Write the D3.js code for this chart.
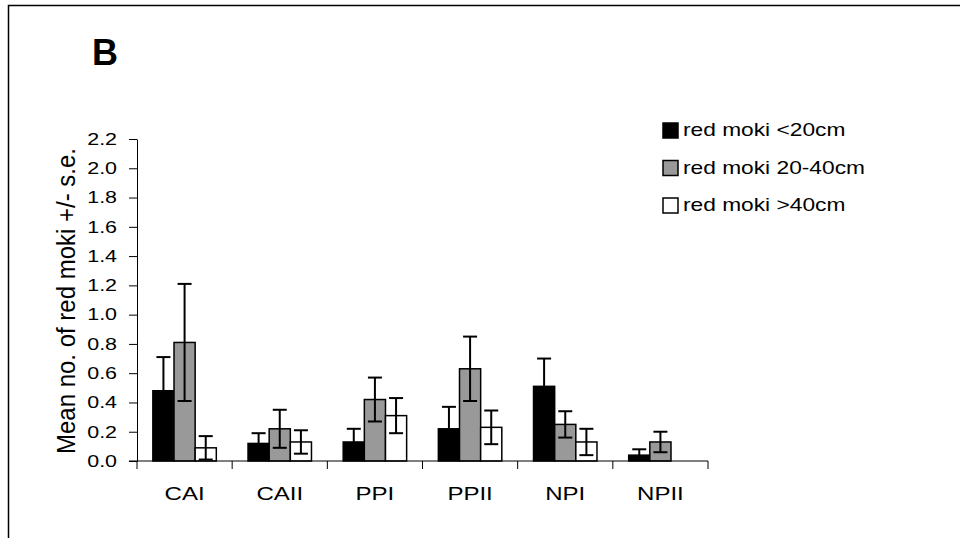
<!DOCTYPE html>
<html>
<head>
<meta charset="utf-8">
<script src="https://cdn.jsdelivr.net/npm/d3@7"></script>
<style>
  body { margin: 0; background: #fff; }
  svg { font-family: "Liberation Sans", Arial, sans-serif; }
</style>
</head>
<body>
<div id="wrapper"></div>
<script>
// sites along the x axis
var sites = ["CAI", "CAII", "PPI", "PPII", "NPI", "NPII"];
// size classes (legend)
var sizeClasses = ["red moki <20cm", "red moki 20-40cm", "red moki >40cm"];
// mean counts per size class, one value per site
var meanSmall = [0.48, 0.12, 0.13, 0.22, 0.51, 0.04];
var meanMid   = [0.81, 0.22, 0.42, 0.63, 0.25, 0.13];
var meanLarge = [0.09, 0.13, 0.31, 0.23, 0.13, 0.0];
// standard errors
var seSmall = [0.23, 0.07, 0.09, 0.15, 0.19, 0.04];
var seMid   = [0.40, 0.13, 0.15, 0.22, 0.09, 0.07];
var seLarge = [0.08, 0.08, 0.12, 0.115, 0.09, 0.0];
var yTicks = [0, 0.2, 0.4, 0.6, 0.8, 1.0, 1.2, 1.4, 1.6, 1.8, 2.0, 2.2];
var fills = ["#000000", "#999999", "#ffffff"];

var means = [meanSmall, meanMid, meanLarge];
var ses = [seSmall, seMid, seLarge];

// the original picture is stretched sideways, text too
var sx = 1.3;

var width = 960, height = 538;
var svg = d3.select("#wrapper").append("svg")
    .attr("width", width)
    .attr("height", height);

// frame (only top and left edges visible)
svg.append("path")
    .attr("d", "M8.5,538 V5.5 H960")
    .attr("fill", "none")
    .attr("stroke", "#000")
    .attr("stroke-width", 1.5);

// panel letter
svg.append("text")
    .attr("x", 92)
    .attr("y", 65)
    .style("font-size", "36px")
    .style("font-weight", "bold")
    .text("B");

var x0 = d3.scaleBand()
    .domain(sites)
    .range([137, 708])
    .paddingInner(0)
    .paddingOuter(0);

var bw = x0.bandwidth() / 4.5;   // excel gap width 150%
var x1 = d3.scaleBand()
    .domain([0, 1, 2])
    .range([bw * 0.75, bw * 3.75]);

var y = d3.scaleLinear()
    .domain([0, 2.2])
    .range([461, 139]);

// build flat bar data
var data = [];
sites.forEach(function (s, i) {
  for (var k = 0; k < 3; k++) {
    data.push({site: s, k: k, mean: means[k][i], se: ses[k][i]});
  }
});

// bars
svg.selectAll(".bar")
    .data(data)
  .enter().append("rect")
    .attr("class", "bar")
    .attr("x", function (d) { return x0(d.site) + x1(d.k); })
    .attr("y", function (d) { return y(d.mean); })
    .attr("width", x1.bandwidth())
    .attr("height", function (d) { return y(0) - y(d.mean); })
    .attr("fill", function (d) { return fills[d.k]; })
    .attr("stroke", "#000")
    .attr("stroke-width", 1.5);

// error bars
var eb = svg.selectAll(".err")
    .data(data.filter(function (d) { return d.se > 0; }))
  .enter().append("g")
    .attr("class", "err")
    .attr("stroke", "#000")
    .attr("stroke-width", 2);
var cx = function (d) { return x0(d.site) + x1(d.k) + x1.bandwidth() / 2; };
eb.append("line")
    .attr("x1", cx).attr("x2", cx)
    .attr("y1", function (d) { return y(d.mean + d.se); })
    .attr("y2", function (d) { return y(Math.max(0, d.mean - d.se)); });
eb.append("line")
    .attr("x1", function (d) { return cx(d) - 7; })
    .attr("x2", function (d) { return cx(d) + 7; })
    .attr("y1", function (d) { return y(d.mean + d.se); })
    .attr("y2", function (d) { return y(d.mean + d.se); });
eb.append("line")
    .attr("x1", function (d) { return cx(d) - 7; })
    .attr("x2", function (d) { return cx(d) + 7; })
    .attr("y1", function (d) { return y(Math.max(0, d.mean - d.se)); })
    .attr("y2", function (d) { return y(Math.max(0, d.mean - d.se)); })
    .attr("stroke", function (d) { return d.k === 0 ? "none" : "#000"; });

// y axis
var yAxis = svg.append("g")
    .attr("transform", "translate(137,0)")
    .call(d3.axisLeft(y).tickValues(yTicks).tickFormat(d3.format(".1f")).tickSize(8).tickSizeOuter(0).tickPadding(12));
yAxis.selectAll("text")
    .style("font-size", "16.5px")
    .attr("fill", "#000")
    .attr("x", -20 / sx)
    .attr("transform", "scale(" + sx + ",1)");
yAxis.attr("font-family", null);
yAxis.select(".domain").attr("stroke", "#000");

// x axis
var xAxis = svg.append("g")
    .attr("transform", "translate(0,461)");
xAxis.append("line")
    .attr("x1", 129).attr("x2", 708)
    .attr("stroke", "#000");
xAxis.selectAll(".xt")
    .data(sites.concat(["end"]))
  .enter().append("line")
    .attr("class", "xt")
    .attr("x1", function (d, i) { return i < sites.length ? x0(d) : x0.range()[1]; })
    .attr("x2", function (d, i) { return i < sites.length ? x0(d) : x0.range()[1]; })
    .attr("y1", 0).attr("y2", 8)
    .attr("stroke", "#000");
xAxis.selectAll(".xl")
    .data(sites)
  .enter().append("text")
    .attr("class", "xl")
    .attr("transform", function (d) {
      return "translate(" + (x0(d) + x0.bandwidth() / 2) + ",39) scale(" + sx + ",1)";
    })
    .attr("text-anchor", "middle")
    .style("font-size", "18.5px")
    .text(function (d) { return d; });

// y axis title
svg.append("text")
    .attr("transform", "translate(75,301) scale(1.1,1) rotate(-90)")
    .attr("text-anchor", "middle")
    .style("font-size", "24px")
    .text("Mean no. of red moki +/- s.e.");

// legend
var legend = svg.selectAll(".legend")
    .data(sizeClasses)
  .enter().append("g")
    .attr("class", "legend")
    .attr("transform", function (d, i) { return "translate(663," + (123 + i * 37.5) + ")"; });
legend.append("rect")
    .attr("width", 15).attr("height", 15)
    .attr("fill", function (d, i) { return fills[i]; })
    .attr("stroke", "#000")
    .attr("stroke-width", 1.5);
legend.append("text")
    .attr("transform", "translate(20,13) scale(" + sx + ",1)")
    .style("font-size", "17.5px")
    .text(function (d) { return d; });
</script>
</body>
</html>
